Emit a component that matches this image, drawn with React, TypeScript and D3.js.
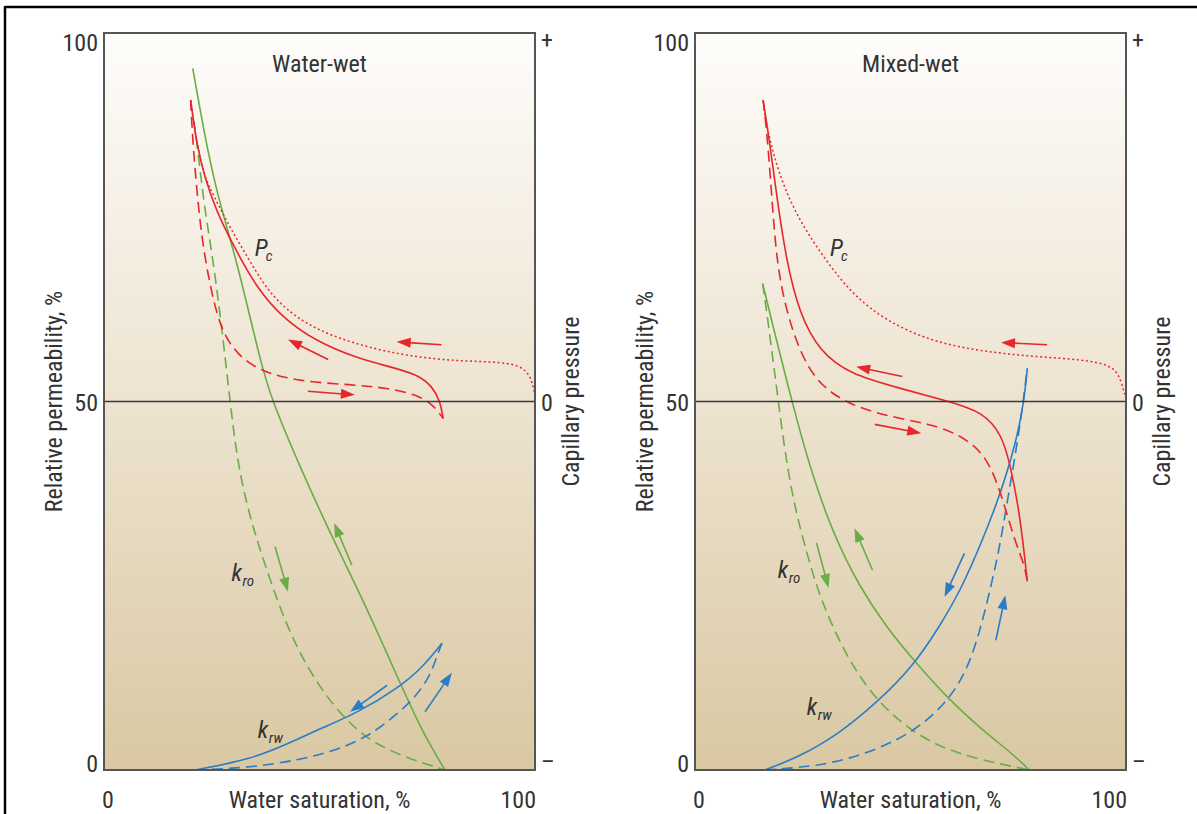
import React from 'react';
import * as d3 from 'd3';

type Pt = [number, number];
type Arrow = [number, number, number, number];

// ---------- Water-wet panel (x: water saturation %, kr: %, pc: arbitrary, 0 = mid) ----------
const wwKroSolid: Pt[] = [
  [20.6, 95.2], [23.0, 87.2], [26.1, 78.3], [30.8, 69.2], [36.2, 55.6], [38.9, 50.2],
  [45.5, 41.1], [52.4, 32.2], [60.1, 23.1], [68.7, 11.8], [74.0, 5.0], [79.1, 0],
];
const wwKroDashed: Pt[] = [
  [20.9, 88.0], [22.3, 81.4], [23.4, 76.0], [25.3, 69.2], [27.3, 60.2], [29.2, 50.2],
  [31.1, 41.1], [33.9, 34.3], [36.2, 29.9], [40.1, 23.1], [43.9, 17.6], [48.5, 12.6],
  [54.0, 8.1], [61.0, 4.1], [69.4, 1.8], [79.1, 0],
];
const wwKrwSolid: Pt[] = [
  [21.1, 0], [33.9, 1.4], [43.2, 3.7], [50.8, 5.8], [58.7, 7.7], [68.7, 11.3], [74.0, 14.0], [78.4, 17.2],
];
const wwKrwDashed: Pt[] = [
  [21.1, 0], [33.9, 0.3], [45.5, 1.4], [54.1, 2.7], [61.0, 4.5], [66.4, 6.8], [71.7, 9.5],
  [75.6, 12.6], [77.5, 15.9], [78.4, 17.2],
];
const wwPcSolid: Pt[] = [
  [20.1, 40.9], [21.5, 34.9], [23.4, 30.3], [26.1, 25.8], [29.9, 21.3], [35.4, 15.4], [41.5, 11.3],
  [49.4, 8.1], [58.6, 5.9], [66.4, 4.7], [72.6, 3.7], [76.3, 2.0], [78.0, 0], [78.7, -2.3],
];
const wwPcDashed: Pt[] = [
  [20.1, 40.9], [20.6, 34.9], [22.3, 23.6], [24.2, 16.8], [26.9, 9.9], [30.8, 6.4], [36.2, 4.1],
  [45.5, 2.7], [57.1, 2.3], [66.4, 1.8], [72.6, 0.9], [76.3, -0.4], [78.7, -2.3],
];
const wwPcDotted: Pt[] = [
  [20.1, 40.9], [21.5, 34.9], [23.4, 30.3], [25.4, 28.0], [29.2, 23.6], [33.9, 19.0], [38.5, 14.5],
  [45.5, 10.9], [54.0, 8.6], [64.7, 6.8], [76.3, 5.7], [87.9, 5.4], [95.8, 5.2], [98.8, 3.7],
  [99.6, 2.0], [100, 0.7],
];
// arrows: [x1, v1, x2, v2] (tail -> head)
const wwPcArrows: Arrow[] = [[78.3, 7.7, 67.9, 8.1], [52.0, 5.7, 42.7, 8.4], [47.3, 1.4, 58.2, 0.9]];
const wwKroArrows: Arrow[] = [[39.7, 30.3, 42.7, 24.2], [57.5, 27.8, 53.4, 33.5]];
const wwKrwArrows: Arrow[] = [[65.7, 11.5, 57.1, 7.9], [74.5, 7.9, 80.7, 13.2]];

// ---------- Mixed-wet panel ----------
const mwKroSolid: Pt[] = [
  [15.7, 66.0], [18.1, 60.2], [22.4, 50.2], [26.6, 41.1], [31.9, 32.2], [38.2, 24.8], [44.4, 19.4],
  [51.3, 14.5], [59.0, 9.5], [66.7, 5.4], [74.5, 1.8], [77.5, 0],
];
const mwKroDashed: Pt[] = [
  [15.7, 66.0], [16.6, 62.4], [18.1, 55.6], [19.3, 50.2], [20.8, 43.4], [22.8, 36.6], [25.1, 31.2],
  [28.2, 24.8], [31.9, 19.4], [36.6, 14.0], [42.1, 9.5], [49.0, 5.8], [56.7, 3.1], [66.0, 1.4],
  [75.2, 0.3], [77.5, 0],
];
const mwKrwSolid: Pt[] = [
  [16.2, 0], [24.3, 1.8], [33.6, 5.0], [42.1, 9.1], [50.5, 14.0], [56.7, 19.4], [62.0, 24.8],
  [66.7, 31.2], [70.6, 37.0], [74.5, 44.4], [76.4, 50.2], [77.1, 54.5],
];
const mwKrwDashed: Pt[] = [
  [16.2, 0], [23.5, 0.3], [31.9, 0.9], [42.1, 2.7], [51.3, 5.4], [58.3, 9.1], [62.9, 13.2],
  [66.0, 18.6], [68.3, 24.0], [70.6, 29.9], [72.5, 36.6], [74.5, 43.4], [75.9, 48.8], [77.1, 54.5],
];
const mwPcSolid: Pt[] = [
  [15.8, 40.9], [17.4, 34.9], [18.9, 28.1], [21.2, 19.0], [24.3, 11.8], [28.9, 6.8], [35.9, 3.7],
  [47.5, 1.8], [59.0, 0], [66.7, -1.4], [71.3, -4.5], [73.3, -9.1], [74.8, -13.6], [75.9, -18.0],
  [77.1, -24.4],
];
const mwPcDashed: Pt[] = [
  [15.8, 40.9], [16.6, 37.1], [17.8, 28.1], [18.9, 19.0], [21.2, 12.2], [24.3, 6.8], [28.2, 2.7],
  [34.3, 0], [42.8, -1.8], [55.1, -3.1], [61.3, -4.5], [66.7, -6.8], [69.8, -10.4], [72.2, -14.9],
  [74.5, -19.4], [76.4, -22.1], [77.1, -24.4],
];
const mwPcDotted: Pt[] = [
  [15.8, 40.9], [16.6, 37.1], [19.7, 30.3], [24.3, 24.4], [30.5, 19.0], [36.6, 14.5], [44.4, 10.9],
  [55.1, 8.1], [66.7, 6.8], [78.2, 6.1], [89.8, 5.7], [96.1, 5.0], [98.4, 3.7], [99.5, 1.4], [100, 0.4],
];
const mwPcArrows: Arrow[] = [[81.7, 7.7, 71.0, 8.0], [48.1, 3.4, 37.4, 4.7], [41.7, -3.1, 52.5, -4.3]];
const mwKroArrows: Arrow[] = [[28.2, 30.8, 31.0, 24.7], [41.2, 27.1, 37.0, 32.8]];
const mwKrwArrows: Arrow[] = [[62.5, 29.4, 57.9, 23.5], [69.8, 17.6, 72.0, 23.7]];

// ---------- tick labels ----------
const krTicks = [0, 50, 100];
const satTicks = [0, 100];
const pcTickLabels = ['+', '0', '\u2013'];
const pcTickValues = [50, 0, -50];
const titles = ['Water-wet', 'Mixed-wet'];

const RED = '#e8262b';
const GREEN = '#6aac45';
const BLUE = '#2a7cc7';
const TEXT = '#333333';
const FONT = "'Liberation Sans Narrow', 'Arial Narrow', 'Roboto Condensed', sans-serif";

const DASH = '11,6';
const DOT = '2,2.6';

function ArrowMark({ x1, y1, x2, y2, color }: { x1: number; y1: number; x2: number; y2: number; color: string }) {
  const dx = x2 - x1, dy = y2 - y1;
  const len = Math.hypot(dx, dy);
  const ux = dx / len, uy = dy / len;
  const hl = 14, hw = 5;
  const bx = x2 - ux * hl, by = y2 - uy * hl;
  const px = -uy, py = ux;
  const pts = `${x2},${y2} ${bx + px * hw},${by + py * hw} ${bx - px * hw},${by - py * hw}`;
  return (
    <g>
      <line x1={x1} y1={y1} x2={bx + ux * 2} y2={by + uy * 2} stroke={color} strokeWidth={1.6} />
      <polygon points={pts} fill={color} />
    </g>
  );
}

function SubLabel({ x, y, main, sub }: { x: number; y: number; main: string; sub: string }) {
  return (
    <g>
      <text x={x} y={y} fontFamily={FONT} fontSize={24} fontStyle="italic" fill={TEXT}>{main}</text>
      <text x={x + 11} y={y + 5} fontFamily={FONT} fontSize={15} fontStyle="italic" fill={TEXT}>{sub}</text>
    </g>
  );
}

interface PanelData {
  kroSolid: Pt[]; kroDashed: Pt[]; krwSolid: Pt[]; krwDashed: Pt[];
  pcSolid: Pt[]; pcDashed: Pt[]; pcDotted: Pt[];
  pcArrows: Arrow[]; kroArrows: Arrow[]; krwArrows: Arrow[];
}

function Panel({ x0, title, d, labels }: { x0: number; title: string; d: PanelData; labels: { pc: Pt; kro: Pt; krw: Pt } }) {
  const pw = 431;
  const top = 33, bottom = 770;
  const x = d3.scaleLinear().domain([0, 100]).range([x0, x0 + pw]);
  const y = d3.scaleLinear().domain([0, 100]).range([bottom, top]);
  const yp = d3.scaleLinear().domain([-50, 50]).range([bottom, top]);
  const curve = d3.curveBasis;
  const lk = d3.line<Pt>().x(p => x(p[0])).y(p => y(p[1])).curve(curve);
  const lp = d3.line<Pt>().x(p => x(p[0])).y(p => yp(p[1])).curve(curve);
  const x1 = x0 + pw;
  const midY = yp(0);
  const fs = 24;

  return (
    <g>
      <rect x={x0} y={top} width={pw} height={bottom - top} fill="url(#bg)" />
      {/* curves */}
      <path d={lk(d.kroDashed)!} fill="none" stroke={GREEN} strokeWidth={1.6} strokeDasharray={DASH} />
      <path d={lk(d.kroSolid)!} fill="none" stroke={GREEN} strokeWidth={1.6} />
      <path d={lk(d.krwDashed)!} fill="none" stroke={BLUE} strokeWidth={1.6} strokeDasharray={DASH} />
      <path d={lk(d.krwSolid)!} fill="none" stroke={BLUE} strokeWidth={1.6} />
      <path d={lp(d.pcDotted)!} fill="none" stroke={RED} strokeWidth={1.5} strokeDasharray={DOT} />
      <path d={lp(d.pcDashed)!} fill="none" stroke={RED} strokeWidth={1.6} strokeDasharray={DASH} />
      <path d={lp(d.pcSolid)!} fill="none" stroke={RED} strokeWidth={1.6} />
      {d.pcArrows.map((a, i) => (
        <ArrowMark key={'p' + i} x1={x(a[0])} y1={yp(a[1])} x2={x(a[2])} y2={yp(a[3])} color={RED} />
      ))}
      {d.kroArrows.map((a, i) => (
        <ArrowMark key={'o' + i} x1={x(a[0])} y1={y(a[1])} x2={x(a[2])} y2={y(a[3])} color={GREEN} />
      ))}
      {d.krwArrows.map((a, i) => (
        <ArrowMark key={'w' + i} x1={x(a[0])} y1={y(a[1])} x2={x(a[2])} y2={y(a[3])} color={BLUE} />
      ))}
      {/* zero line and frame */}
      <line x1={x0} x2={x1} y1={midY} y2={midY} stroke="#3a3a3a" strokeWidth={1.5} />
      <rect x={x0} y={top} width={pw} height={bottom - top} fill="none" stroke="#555" strokeWidth={2} />
      {/* title */}
      <text x={x(50)} y={72} textAnchor="middle" fontFamily={FONT} fontSize={fs} fill={TEXT}>{title}</text>
      {/* curve labels */}
      <SubLabel x={x(labels.pc[0])} y={yp(labels.pc[1])} main="P" sub="c" />
      <SubLabel x={x(labels.kro[0])} y={y(labels.kro[1])} main="k" sub="ro" />
      <SubLabel x={x(labels.krw[0])} y={y(labels.krw[1])} main="k" sub="rw" />
      {/* left ticks */}
      {krTicks.map(t => (
        <text key={'k' + t} x={x0 - 6} y={t === 100 ? y(t) + 18 : t === 50 ? y(t) + 9 : y(t) + 2}
          textAnchor="end" fontFamily={FONT} fontSize={fs} fill={TEXT}>{t}</text>
      ))}
      {/* bottom ticks */}
      {satTicks.map(t => (
        <text key={'s' + t} x={t === 0 ? x(t) - 2 : x(t) + 1} y={808}
          textAnchor={t === 0 ? 'start' : 'end'} fontFamily={FONT} fontSize={fs} fill={TEXT}>{t}</text>
      ))}
      {/* right (capillary pressure) ticks */}
      {pcTickLabels.map((lab, i) => {
        const v = pcTickValues[i];
        const yy = v === 50 ? yp(v) + 15 : v === 0 ? yp(v) + 9 : yp(v) + 0;
        return (
          <text key={'c' + i} x={x1 + 6} y={yy} fontFamily={FONT} fontSize={fs} fill={TEXT}>{lab}</text>
        );
      })}
      {/* axis titles */}
      <text x={x(50)} y={808} textAnchor="middle" fontFamily={FONT} fontSize={fs} fill={TEXT}>Water saturation, %</text>
      <text transform={`translate(${x0 - 42},${midY}) rotate(-90)`} textAnchor="middle" fontFamily={FONT} fontSize={fs} fill={TEXT}>
        Relative permeability, %
      </text>
      <text transform={`translate(${x1 + 44},${midY}) rotate(-90)`} textAnchor="middle" fontFamily={FONT} fontSize={fs} fill={TEXT}>
        Capillary pressure
      </text>
    </g>
  );
}

export default function App() {
  const ww: PanelData = {
    kroSolid: wwKroSolid, kroDashed: wwKroDashed, krwSolid: wwKrwSolid, krwDashed: wwKrwDashed,
    pcSolid: wwPcSolid, pcDashed: wwPcDashed, pcDotted: wwPcDotted,
    pcArrows: wwPcArrows, kroArrows: wwKroArrows, krwArrows: wwKrwArrows,
  };
  const mw: PanelData = {
    kroSolid: mwKroSolid, kroDashed: mwKroDashed, krwSolid: mwKrwSolid, krwDashed: mwKrwDashed,
    pcSolid: mwPcSolid, pcDashed: mwPcDashed, pcDotted: mwPcDotted,
    pcArrows: mwPcArrows, kroArrows: mwKroArrows, krwArrows: mwKrwArrows,
  };
  return (
    <svg width={1197} height={814} style={{ position: 'absolute', left: 0, top: 0, background: '#fff' }}>
      <defs>
        <linearGradient id="bg" x1="0" y1="0" x2="0" y2="1">
          <stop offset="0" stopColor="#fefdfb" />
          <stop offset="0.5" stopColor="#ede3d0" />
          <stop offset="1" stopColor="#dac8a3" />
        </linearGradient>
      </defs>
      <line x1={5} x2={1197} y1={7} y2={7} stroke="#000" strokeWidth={2.5} />
      <line x1={5} x2={5} y1={6} y2={814} stroke="#000" strokeWidth={2.5} />
      <Panel x0={104} title={titles[0]} d={ww} labels={{ pc: [35.0, 19.7], kro: [29.6, 25.7], krw: [35.7, 4.4] }} />
      <Panel x0={695} title={titles[1]} d={mw} labels={{ pc: [31.3, 19.7], kro: [19.2, 26.0], krw: [25.9, 7.5] }} />
    </svg>
  );
}
